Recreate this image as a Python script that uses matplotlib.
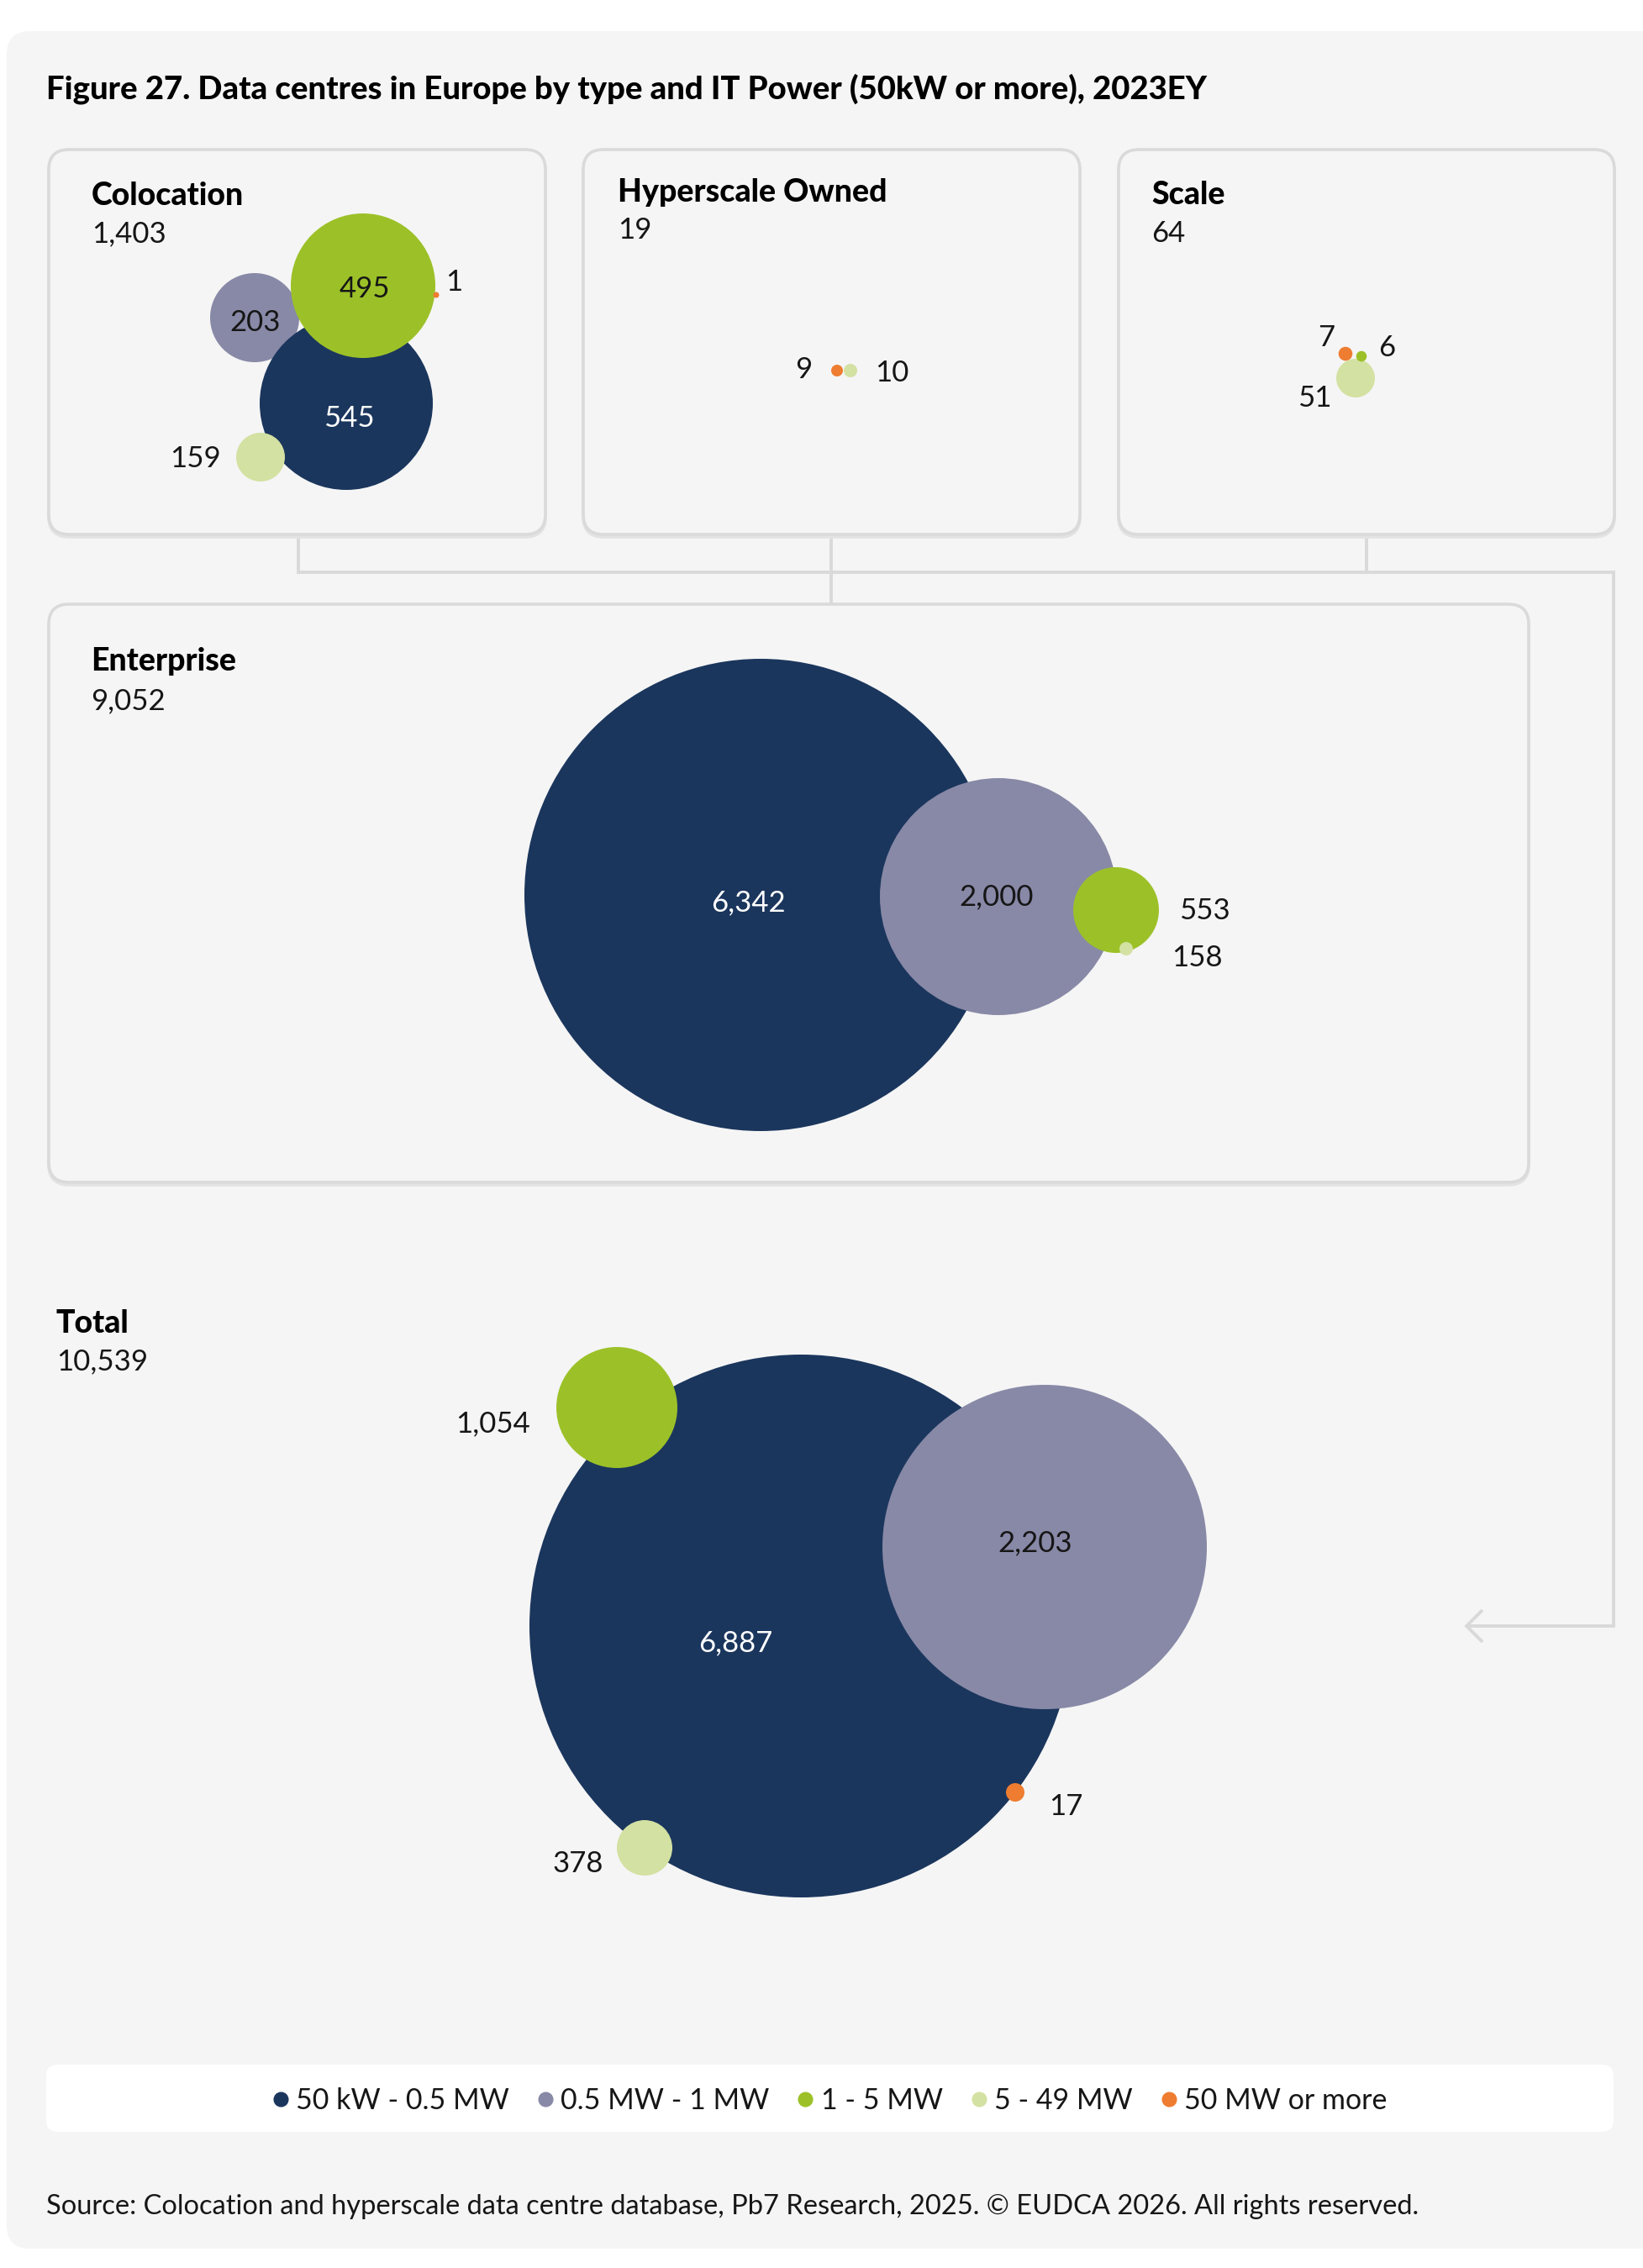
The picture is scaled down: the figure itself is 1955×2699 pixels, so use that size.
import matplotlib
matplotlib.use('Agg')
import matplotlib.pyplot as plt
from matplotlib import font_manager
from matplotlib.lines import Line2D
from matplotlib.patches import Circle, FancyBboxPatch

# ---- data -------------------------------------------------------------
categories = ['50 kW - 0.5 MW', '0.5 MW - 1 MW', '1 - 5 MW', '5 - 49 MW', '50 MW or more']
colors = ['#1b365d', '#8889a7', '#9cc128', '#d3e1a2', '#ee7d31']

panel_names = ['Colocation', 'Hyperscale Owned', 'Scale', 'Enterprise', 'Total']
panel_totals = [1403, 19, 64, 9052, 10539]

colocation = [545, 203, 495, 159, 1]
hyperscale_owned = [0, 0, 0, 10, 9]
scale = [0, 0, 6, 51, 7]
enterprise = [6342, 2000, 553, 158, 0]
total = [6887, 2203, 1054, 378, 17]
panel_values = [colocation, hyperscale_owned, scale, enterprise, total]

title = 'Figure 27. Data centres in Europe by type and IT Power (50kW or more), 2023EY'
source = ('Source: Colocation and hyperscale data centre database, Pb7 Research, 2025. '
          '\u00a9 EUDCA 2026. All rights reserved.')

# ---- layout (pixels on a 1955 x 2699 canvas, y pointing down) ----------
W, H = 1955, 2699
panel_boxes = [(58, 178, 591, 458), (694, 178, 591, 458), (1331, 178, 590, 458),
               (58, 719, 1761, 688), None]
# x, baseline of name, baseline of total
header_pos = [(109, 244, 288), (735, 240, 284), (1370, 243, 288),
              (108, 798, 844), (67, 1586, 1630)]
bubble_xy = [
    [(412, 480), (303, 378), (432, 340), (310, 544), (519, 351)],
    [None, None, None, (1012, 441), (996, 441)],
    [None, None, (1620, 424), (1613, 450), (1601, 421)],
    [(905, 1065), (1188, 1067), (1328, 1083), (1340, 1129), None],
    [(953, 1935), (1243, 1841), (734, 1675), (767, 2199), (1208, 2133)],
]
bubble_r = [
    [103, 53, 86, 29, 3.5],
    [0, 0, 0, 8, 7],
    [0, 0, 6.3, 23, 8.3],
    [281, 141, 51, 8, 0],
    [323, 193, 72, 33, 11],
]
draw_order = [[1, 0, 2, 3, 4], [3, 4], [3, 2, 4], [0, 1, 2, 3], [0, 1, 2, 3, 4]]
label_pos = [
    [(415, 495, 'center'), (304, 381, 'center'), (434, 341, 'center'), (263, 543, 'right'), (530, 334, 'left')],
    [None, None, None, (1041, 441, 'left'), (966, 437, 'right')],
    [None, None, (1640, 411, 'left'), (1585, 471, 'right'), (1588, 400, 'right')],
    [(890, 1072, 'center'), (1186, 1065, 'center'), (1403, 1081, 'left'), (1394, 1138, 'left'), None],
    [(875, 1953, 'center'), (1232, 1834, 'center'), (631, 1692, 'right'), (718, 2215, 'right'), (1248, 2148, 'left')],
]
connectors = [
    [(355, 636), (355, 681), (1920, 681), (1920, 1935), (1745, 1935)],
    [(989, 636), (989, 719)],
    [(1626, 636), (1626, 681)],
    [(1764, 1916), (1745, 1935), (1764, 1954)],
]

# ---- fonts ------------------------------------------------------------
avail = {(f.name, f.weight) for f in font_manager.fontManager.ttflist}
FAM = 'Lato' if any(n == 'Lato' for n, _ in avail) else 'DejaVu Sans'
BOLD = 'black' if (FAM, 900) in avail else 'bold'
plt.rcParams['font.family'] = [FAM, 'DejaVu Sans']

NUM_PT = 25
INK = '#161616'


def put(x, yc, s, ha='left', color=INK, size=NUM_PT):
    # place text so that its cap height is centred on yc
    cap = 0.72 * size * 100 / 72
    ax.text(x, yc + cap / 2, s, ha=ha, va='baseline', color=color, fontsize=size,
            zorder=20)


fig = plt.figure(figsize=(W / 100, H / 100), dpi=100, facecolor='white')
ax = fig.add_axes([0, 0, 1, 1])
ax.set_xlim(0, W)
ax.set_ylim(H, 0)
ax.axis('off')

# outer panel
ax.add_patch(FancyBboxPatch((8, 37), W + 40, 2676 - 37,
                            boxstyle='round,pad=0,rounding_size=28',
                            fc='#f5f5f5', ec='none', zorder=0))

# connectors
for pts in connectors:
    xs, ys = zip(*pts)
    ax.plot(xs, ys, color='#d9d9d9', lw=2.8, solid_capstyle='butt',
            solid_joinstyle='miter', zorder=1)

# panel boxes
for box in panel_boxes:
    if box is None:
        continue
    x, y, w, h = box
    ax.add_patch(FancyBboxPatch((x, y + 3), w, h, boxstyle='round,pad=0,rounding_size=24',
                                fc='none', ec='#e3e3e3', lw=2.6, zorder=2))
    ax.add_patch(FancyBboxPatch((x, y), w, h, boxstyle='round,pad=0,rounding_size=24',
                                fc='#f5f5f5', ec='#dadada', lw=2.6, zorder=2))

# headers
ax.text(55, 117, title, fontsize=27.5, fontweight=BOLD, color='black', va='baseline')
for name, tot, (x, yb1, yb2) in zip(panel_names, panel_totals, header_pos):
    ax.text(x, yb1, name, fontsize=27, fontweight=BOLD, color='black', va='baseline')
    ax.text(x, yb2, f'{tot:,}', fontsize=NUM_PT, color=INK, va='baseline')

# bubbles and labels
for p, vals in enumerate(panel_values):
    for rank, i in enumerate(draw_order[p]):
        if vals[i] == 0:
            continue
        ax.add_patch(Circle(bubble_xy[p][i], bubble_r[p][i], fc=colors[i], ec='none',
                            zorder=3 + rank))
    for i, v in enumerate(vals):
        if v == 0 or label_pos[p][i] is None:
            continue
        lx, ly, ha = label_pos[p][i]
        put(lx, ly, f'{v:,}', ha=ha, color='white' if i == 0 else INK)

# legend strip
ax.add_patch(FancyBboxPatch((55, 2457), 1865, 80, boxstyle='round,pad=0,rounding_size=14',
                            fc='white', ec='none', zorder=1))
handles = [Line2D([], [], marker='o', linestyle='', markersize=12, color=c) for c in colors]
leg = ax.legend(handles, categories, ncol=5, loc='center', frameon=False,
                bbox_to_anchor=(988 / W, 1 - 2500 / H), bbox_transform=fig.transFigure,
                prop={'family': [FAM, 'DejaVu Sans'], 'size': 24.5},
                labelcolor=INK, handlelength=0.5, handletextpad=0.3,
                columnspacing=1.0, borderpad=0)
leg.set_zorder(30)

ax.text(55, 2635, source, fontsize=23.5, color=INK, va='baseline')

fig.savefig('out.png', dpi=100, facecolor='white')
